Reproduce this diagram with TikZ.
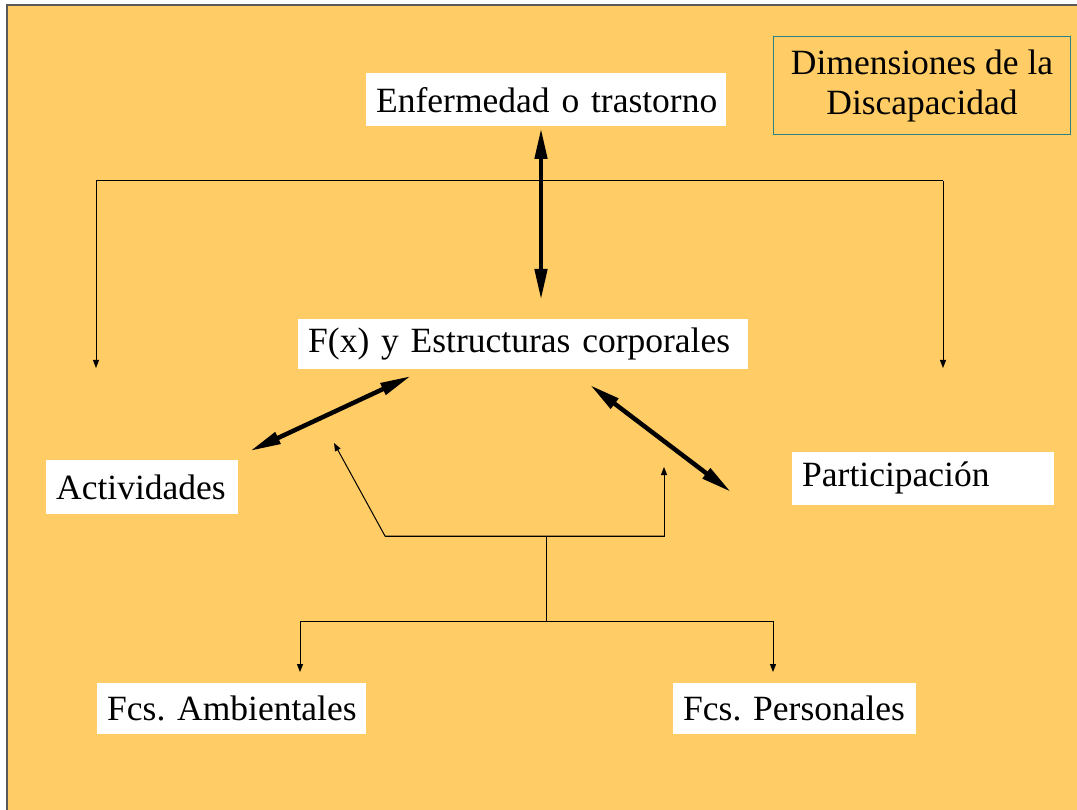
\documentclass[tikz,border=0pt]{standalone}
\usepackage{fontspec}
\setmainfont{Liberation Serif}
\usetikzlibrary{arrows.meta}
\definecolor{bg}{HTML}{FFCC66}
\definecolor{teal}{HTML}{2F8080}
\newcommand{\tx}[1]{\mbox{#1}}
\frenchspacing
\begin{document}
\begin{tikzpicture}[x=1pt,y=-1pt,
  wbox/.style={fill=white,inner xsep=10pt,inner ysep=0pt,font=\fontsize{35.5}{40}\selectfont,align=left,anchor=west},
  thin/.style={line width=1pt,-{Triangle[length=8pt,width=6pt]}},
  thick2/.style={line width=4.5pt,{Triangle[length=31pt,width=12pt]}-{Triangle[length=31pt,width=12pt]}}]
\useasboundingbox (0,0) rectangle (1077,810);
\fill[white] (0,0) rectangle (1077,810);
\fill[bg] (7,5) rectangle (1077,810);
\draw[line width=1.5pt,gray!70!black] (7,810) -- (7,5) -- (1077,5);
% boxes
\node[wbox,text width=340pt,minimum height=53pt] (enf) at (366,100) {\tx{Enfermedad o trastorno}};
\node[draw=teal,line width=1pt,fill=bg,inner sep=0pt,minimum width=297pt,minimum height=98pt,align=center,font=\fontsize{35.5}{40}\selectfont] (dim) at (922,86) {Dimensiones de la\\Discapacidad};
\node[wbox,text width=430pt,minimum height=50pt] (fx) at (298,344) {\tx{F(x) y Estructuras corporales}};
\node[wbox,text width=172pt,minimum height=54pt] (act) at (46,487) {\tx{Actividades}};
\node[wbox,text width=242pt,minimum height=53pt] (par) at (792,478) {\tx{Participación}};
\node[wbox,text width=249pt,minimum height=51pt] (amb) at (97,708) {\tx{Fcs. Ambientales}};
\node[wbox,text width=223pt,minimum height=51pt] (per) at (673,708) {\tx{Fcs. Personales}};
% coordinates
\coordinate (tl) at (96,181);
\coordinate (tr) at (943,181);
\coordinate (al) at (96,368);
\coordinate (ar) at (943,368);
\coordinate (v1) at (541,128);
\coordinate (v2) at (541,300);
\coordinate (d1) at (250,451);
\coordinate (d2) at (411,376);
\coordinate (e1) at (590,385);
\coordinate (e2) at (731,492);
\coordinate (b1) at (546,537);
\coordinate (b2) at (546,621);
\coordinate (bl) at (300,621);
\coordinate (br) at (773,621);
\coordinate (bla) at (300,672);
\coordinate (bra) at (773,672);
\coordinate (ul) at (385,536);
\coordinate (ur) at (664,536);
\coordinate (ula) at (334,443);
\coordinate (ura) at (664,467);
% thin lines
\draw[thin] (tl) -- (al);
\draw[thin] (tr) -- (ar);
\draw[line width=1pt] (tl) -- (tr);
\draw[line width=1pt] (b1) -- (b2);
\draw[line width=1pt] (bl) -- (br);
\draw[thin] (bl) -- (bla);
\draw[thin] (br) -- (bra);
\draw[thin] (ur) -- (ul) -- (ula);
\draw[thin] (ul) -- (ur) -- (ura);
% thick arrows
\draw[thick2] (v1) -- (v2);
\draw[thick2] (d1) -- (d2);
\draw[thick2] (e1) -- (e2);
\end{tikzpicture}
\end{document}
